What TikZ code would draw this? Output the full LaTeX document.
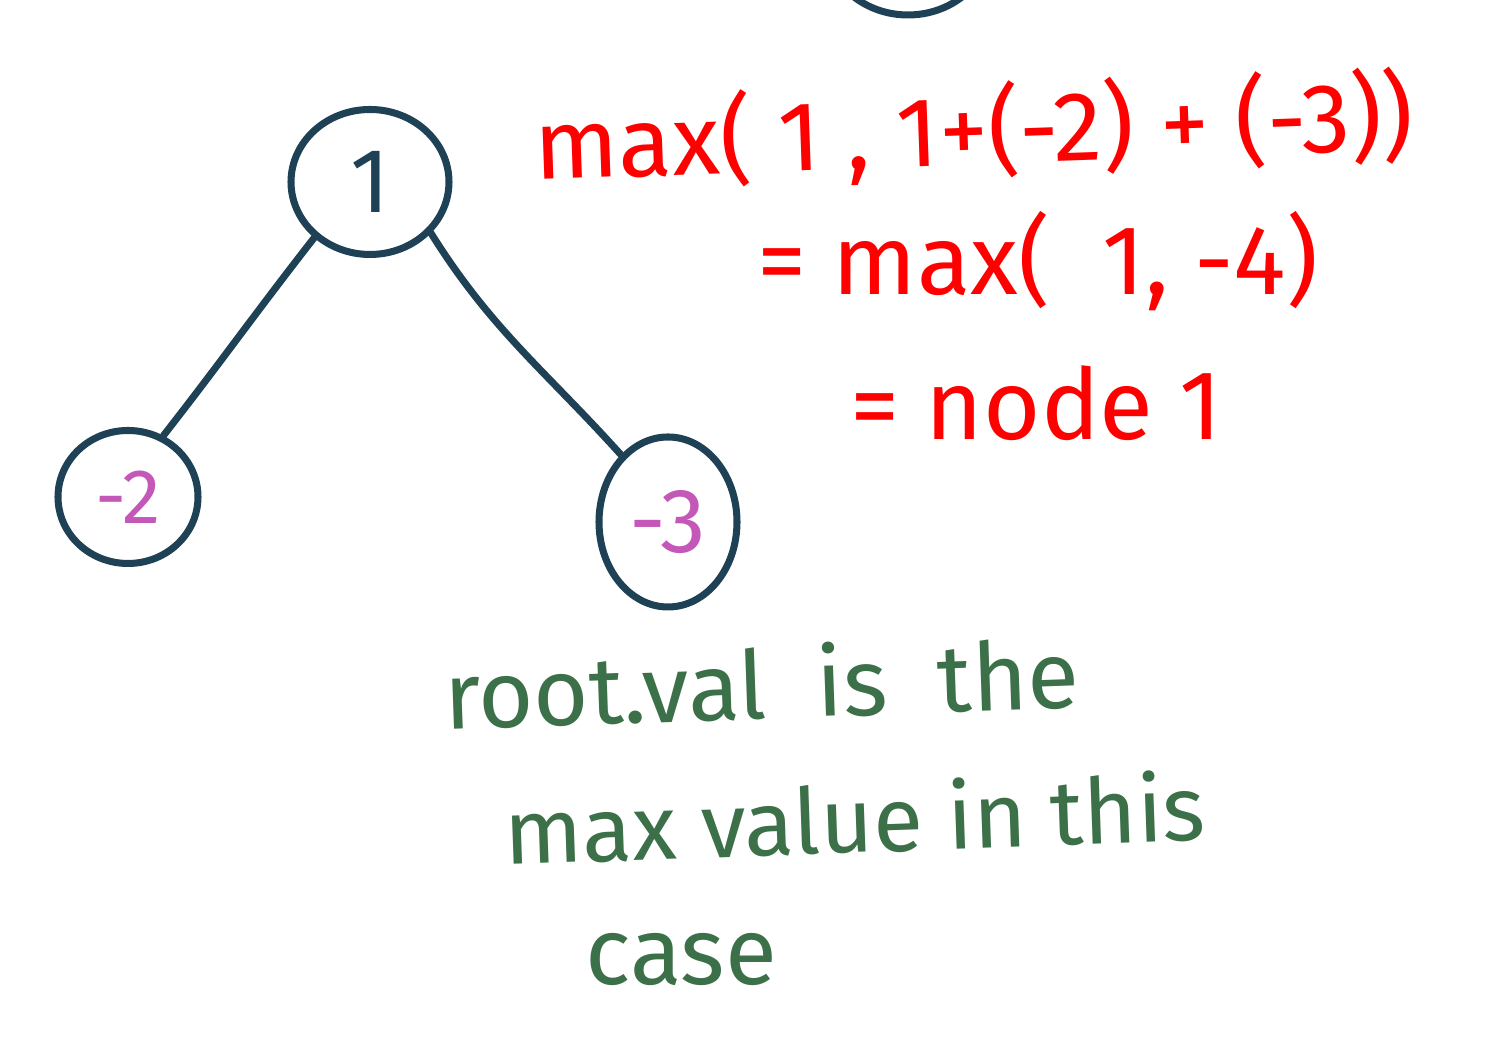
\documentclass[tikz,border=0pt]{standalone}
\usepackage{fontspec}
\setmainfont{Fira Sans}
\usetikzlibrary{shapes.geometric}

\begin{document}
\begin{tikzpicture}
%% Colors
\definecolor{treeCol}{HTML}{1F4155}
\definecolor{negCol}{HTML}{C458B8}
\definecolor{calcCol}{HTML}{FF0000}
\definecolor{noteCol}{HTML}{3C7049}
%% Styles
\tikzset{
treenode/.style = {draw=treeCol, line width=2pt, ellipse, inner sep=0pt, font=\fontsize{26}{30}\selectfont},
branch/.style = {draw=treeCol, line width=2pt, line cap=round},
calc/.style = {anchor=base west, inner sep=0pt, text=calcCol, font=\fontsize{28}{32}\selectfont},
note/.style = {anchor=base west, inner sep=0pt, text=noteCol, font=\fontsize{27}{32}\selectfont}
}
\useasboundingbox (0,0) rectangle (14.89,10.40);
\begin{scope}
\path[clip] (0,0) rectangle (14.89,10.40);

%% Tree
\node[treenode, minimum width=1.66cm, minimum height=1.5cm] (top) at (9.08,11.00) {};
\node[treenode, minimum width=1.58cm, minimum height=1.45cm, text=treeCol] (n1) at (3.70,8.58) {1};
\node[treenode, minimum width=1.40cm, minimum height=1.33cm, text=negCol, font=\fontsize{22}{26}\selectfont] (m2) at (1.28,5.43) {-2};
\node[treenode, minimum width=1.38cm, minimum height=1.70cm, text=negCol] (m3) at (6.68,5.18) {-3};

\path[branch] (n1.225) to[out=-128,in=52] (m2.60);
\path[branch] (n1.-40) to[out=-58,in=132] (m3.125);

%% Working
\node[calc, rotate=2] (eq1) at (5.35,8.60) {max( 1 , 1+(-2) + (-3))};
\node[calc] (eq2) at (7.57,7.45) {= max(\ \ 1, -4)};
\node[calc] (eq3) at (8.50,6.00) {= node 1};

%% Remark
\node[note, rotate=2] (note1) at (4.45,3.10) {root.val \ is \ the};
\node[note, rotate=2, font=\fontsize{26}{30}\selectfont] (note2) at (5.05,1.75) {max value in this};
\node[note] (note3) at (5.85,0.55) {case};
\end{scope}
\end{tikzpicture}
\end{document}
